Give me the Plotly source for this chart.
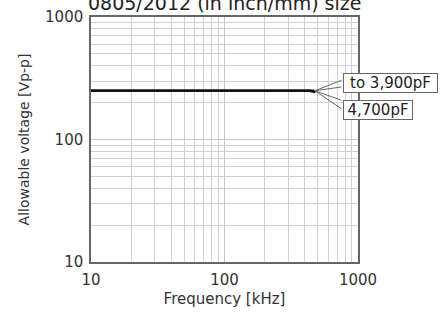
import plotly.graph_objects as go
import math

freq_a = [10, 470]
volt_a = [250, 250]
freq_b = [10, 430, 480]
volt_b = [250, 250, 244]
series_names = ["to 3,900pF", "4,700pF"]
callout_freq = 475
callout_volt = 250
x_ticks = [10, 100, 1000]
y_ticks = [10, 100, 1000]

FONT = "DejaVu Sans"
TXT = "#333333"
fig = go.Figure()
fig.add_trace(go.Scatter(x=freq_b, y=volt_b, mode="lines", line=dict(color="#111111", width=2.5), showlegend=False))
fig.add_trace(go.Scatter(x=freq_a, y=volt_a, mode="lines", line=dict(color="#111111", width=2.5), showlegend=False))

grid = dict(showgrid=True, gridcolor="#c6c6c6", gridwidth=1,
            minor=dict(showgrid=True, gridcolor="#d0d0d0", gridwidth=1, dtick="D1", ticks=""))

fig.update_xaxes(type="log", range=[1, 3], tickvals=x_ticks, ticktext=[str(v) for v in x_ticks],
                 showline=True, linecolor="#666666", linewidth=1.5, mirror=True, ticks="",
                 tickfont=dict(size=15, color=TXT, family=FONT), ticklabelstandoff=3,
                 title=dict(text="Frequency [kHz]", font=dict(size=15, color=TXT, family=FONT), standoff=6),
                 zeroline=False, automargin=False, **grid)
fig.update_yaxes(type="log", range=[1, 3], tickvals=y_ticks, ticktext=[str(v) for v in y_ticks],
                 showline=True, linecolor="#666666", linewidth=1.5, mirror=True, ticks="",
                 tickfont=dict(size=15, color=TXT, family=FONT), ticklabelstandoff=3,
                 title=dict(text="Allowable voltage [Vp-p]", font=dict(size=14, color=TXT, family=FONT), standoff=12),
                 zeroline=False, automargin=False, **grid)

px, py = math.log10(callout_freq), math.log10(callout_volt)
# callout wedges
for (ax_, ay_) in [(28, -11), (28, -4), (28, 10), (28, 19)]:
    fig.add_annotation(x=px, y=py, text="", showarrow=True, arrowhead=0, arrowwidth=1,
                       arrowcolor="#666666", ax=ax_, ay=ay_, standoff=0, startstandoff=0)
# callout boxes
fig.add_annotation(x=px, y=py, text=series_names[0], showarrow=False, xshift=75.5, yshift=8,
                   width=93, height=18, bgcolor="white", bordercolor="#666666", borderwidth=1, borderpad=0,
                   font=dict(size=15, color="#222222", family=FONT))
fig.add_annotation(x=px, y=py, text=series_names[1], showarrow=False, xshift=63, yshift=-19,
                   width=68, height=18, bgcolor="white", bordercolor="#666666", borderwidth=1, borderpad=0,
                   font=dict(size=15, color="#222222", family=FONT))
fig.add_annotation(x=0.5, y=1, xref="paper", yref="paper", text="0805/2012 (in inch/mm) size",
                   showarrow=False, yanchor="bottom", yshift=1, font=dict(size=19, color="#222222", family=FONT))

fig.update_layout(width=440, height=314, margin=dict(l=91, r=82, t=17, b=52, autoexpand=False),
                  paper_bgcolor="white", plot_bgcolor="white", font=dict(family=FONT))
fig.write_html("out.html", config={"displayModeBar": False},
               post_script="document.body.style.margin='0';document.body.style.overflow='hidden';")
